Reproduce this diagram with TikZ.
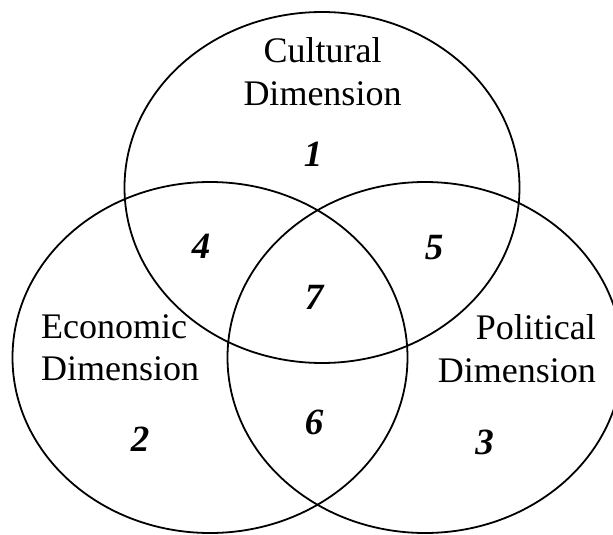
\documentclass[tikz,border=0pt]{standalone}
\usepackage{fontspec}
\setmainfont{Liberation Serif}
\usetikzlibrary{shapes.geometric, positioning}

\begin{document}
\begin{tikzpicture}[
    x=1pt, y=-1pt,
    ring/.style={ellipse, draw=black, line width=1.8pt, minimum width=395pt, minimum height=351pt, inner sep=0pt},
    dimlabel/.style={font=\fontsize{36}{42.5}\selectfont, inner sep=0pt},
    regionnum/.style={font=\fontsize{37}{42.5}\selectfont\bfseries\itshape, inner sep=0pt},
  ]
    \useasboundingbox (0,0) rectangle (613,535);
    \clip (0,0) rectangle (613,535);
    \node[ring] (cultural) at (322,187.5) {};
    \node[ring] (economic) at (210,357.5) {};
    \node[ring] (political) at (425,357.5) {};
    \node[dimlabel, anchor=north, align=center] (cultlabel) at (322.5,37.4) {Cultural\\Dimension};
    \node[dimlabel, anchor=north west, align=left] (econlabel) at (41,314.4) {Economic\\Dimension};
    \node[dimlabel, anchor=north east, align=right] (pollabel) at (596,314.4) {Political\\Dimension};
    \node[regionnum] (one) at (313,154) {1};
    \node[regionnum] (two) at (140,439) {2};
    \node[regionnum] (three) at (484.5,442.5) {3};
    \node[regionnum] (four) at (201,246) {4};
    \node[regionnum] (five) at (434,247.6) {5};
    \node[regionnum] (six) at (314,422) {6};
    \node[regionnum] (seven) at (314,297) {7};
  \end{tikzpicture}
\end{document}
